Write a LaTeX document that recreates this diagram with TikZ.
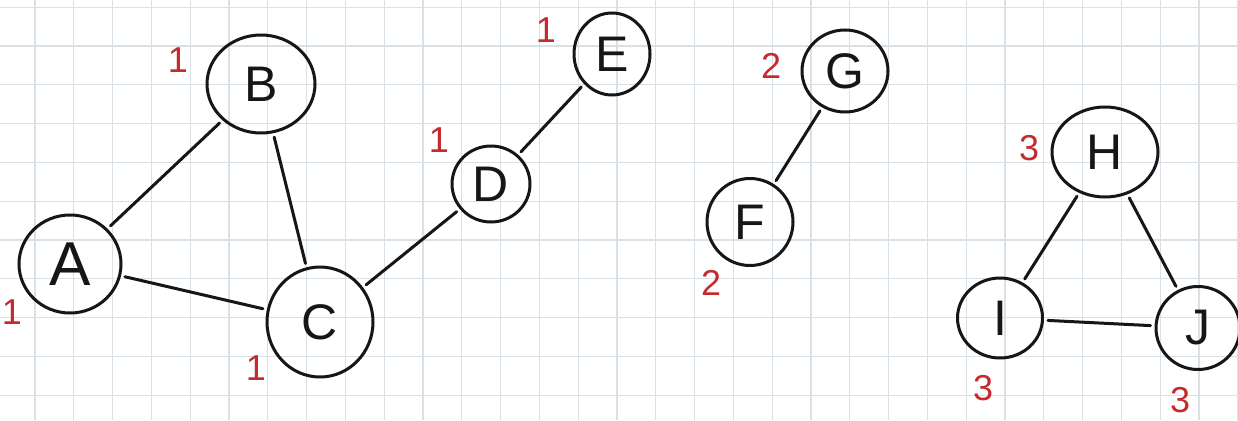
\documentclass[tikz,border=0pt]{standalone}
\usepackage{fontspec}
\setmainfont{Liberation Sans}
\usetikzlibrary{shapes.geometric}
\definecolor{gridc}{HTML}{D9E0E6}
\definecolor{penred}{HTML}{C42B2F}
\definecolor{ink}{HTML}{161616}
\tikzset{
  vtx/.style={draw=ink, line width=3pt, ellipse, inner sep=0pt, font=\fontsize{50}{50}\selectfont, text=ink},
  edge/.style={draw=ink, line width=3pt, line cap=round, shorten >=4pt, shorten <=4pt},
  num/.style={text=penred, font=\fontsize{36}{36}\selectfont, inner sep=0pt},
}
\begin{document}
\begin{tikzpicture}[x=1pt,y=-1pt]
\useasboundingbox (0,0) rectangle (1238,420);
\fill[white] (0,0) rectangle (1238,420);
% grid
\foreach \i in {0,...,32} {
  \draw[gridc, line width=1.2pt] ({-3.8+38.8*\i},0) -- ({-3.8+38.8*\i},420);
}
\foreach \j in {0,...,11} {
  \draw[gridc, line width=1.2pt] (0,{7.2+38.8*\j}) -- (1238,{7.2+38.8*\j});
}
% vertices
\node[vtx, minimum width=102pt, minimum height=98pt, font=\fontsize{62}{62}\selectfont] (A) at (70,264) {A};
\node[vtx, minimum width=108pt, minimum height=98pt] (B) at (261,84) {B};
\node[vtx, minimum width=106pt, minimum height=110pt] (C) at (320,322) {C};
\node[vtx, minimum width=78pt, minimum height=76pt] (D) at (491,184) {D};
\node[vtx, minimum width=76pt, minimum height=82pt] (E) at (612,54) {E};
\node[vtx, minimum width=86pt, minimum height=82pt] (G) at (845,71) {G};
\node[vtx, minimum width=86pt, minimum height=87pt] (F) at (750,222) {F};
\node[vtx, minimum width=106pt, minimum height=90pt] (H) at (1105,152) {H};
\node[vtx, minimum width=85pt, minimum height=80pt] (I) at (1000,318) {I};
\node[vtx, minimum width=84pt, minimum height=83pt] (J) at (1198,328) {J};
% edges
\draw[edge] (A) -- (B);
\draw[edge] (A) -- (C);
\draw[edge] (B) -- (C);
\draw[edge] (C) -- (D);
\draw[edge] (D) -- (E);
\draw[edge] (G) -- (F);
\draw[edge] (H) -- (I);
\draw[edge] (H) -- (J);
\draw[edge] (I) -- (J);
% labels
\node[num] (nA) at (12,312) {1};
\node[num] (nB) at (178,60) {1};
\node[num] (nC) at (256,368) {1};
\node[num] (nD) at (439,140) {1};
\node[num] (nE) at (546,30) {1};
\node[num] (nG) at (771,66) {2};
\node[num] (nF) at (711,283) {2};
\node[num] (nH) at (1029,148) {3};
\node[num] (nI) at (983,388) {3};
\node[num] (nJ) at (1180,400) {3};
\end{tikzpicture}
\end{document}
